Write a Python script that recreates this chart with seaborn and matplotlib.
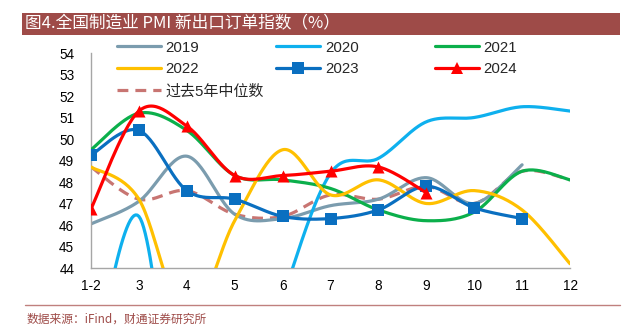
import numpy as np
import pandas as pd
import matplotlib
matplotlib.use("Agg")
import matplotlib.pyplot as plt
import seaborn as sns
from matplotlib.lines import Line2D

months = ["1-2", "3", "4", "5", "6", "7", "8", "9", "10", "11", "12"]
y2019 = [46.05, 47.1, 49.2, 46.5, 46.3, 46.9, 47.2, 48.2, 47.0, 48.8]
y2020 = [38.7, 46.4, 33.5, 35.3, 42.6, 48.4, 49.1, 50.8, 51.0, 51.5, 51.3]
y2021 = [49.5, 51.2, 50.4, 48.3, 48.1, 47.7, 46.7, 46.2, 46.6, 48.5, 48.1]
y2022 = [48.7, 47.2, 41.6, 46.2, 49.5, 47.4, 48.1, 47.0, 47.6, 46.7, 44.2]
y2023 = [49.25, 50.4, 47.6, 47.2, 46.4, 46.3, 46.7, 47.8, 46.8, 46.3]
y2024 = [46.75, 51.3, 50.6, 48.3, 48.3, 48.5, 48.7, 47.5]
median5 = [48.7, 47.2, 47.6, 46.5, 46.4, 47.4, 47.2, 47.8, 47.0, 48.5, 48.1]

yticks = list(range(44, 55))

title = "图4.全国制造业 PMI 新出口订单指数（%）"
source = "数据来源：iFind，财通证券研究所"

sns.set_theme(style="white")
plt.rcParams["font.family"] = ["Liberation Sans", "Noto Sans CJK SC", "DejaVu Sans"]

W, H = 627, 330
fig = plt.figure(figsize=(W / 100, H / 100), dpi=100)
ax = fig.add_axes([91 / W, 1 - 268 / H, (570 - 91) / W, (268 - 53) / H])


def smooth(vals, n=30):
    """Excel-like Catmull-Rom Bezier smoothing in (index, value) space."""
    P = np.column_stack([np.arange(len(vals), dtype=float), np.asarray(vals, float)])
    m = len(P)
    xs, ys = [], []
    for i in range(m - 1):
        p0 = P[i - 1] if i > 0 else P[i]
        p1 = P[i]
        p2 = P[i + 1]
        p3 = P[i + 2] if i + 2 < m else P[i + 1]
        b1 = p1 + (p2 - p0) / 6.0
        b2 = p2 - (p3 - p1) / 6.0
        t = np.linspace(0, 1, n, endpoint=(i == m - 2))[:, None]
        c = ((1 - t) ** 3) * p1 + 3 * ((1 - t) ** 2) * t * b1 + 3 * (1 - t) * t ** 2 * b2 + t ** 3 * p2
        xs.append(c[:, 0])
        ys.append(c[:, 1])
    return np.concatenate(xs), np.concatenate(ys)


series = [
    ("过去5年中位数", median5, "#C87572", None, (0, (3.4, 2.2)), 1),
    ("2019", y2019, "#7B9CAE", None, "-", 2),
    ("2020", y2020, "#0EB0EE", None, "-", 3),
    ("2021", y2021, "#0BAF4B", None, "-", 4),
    ("2022", y2022, "#FFC000", None, "-", 5),
    ("2023", y2023, "#0A6FC0", "s", "-", 6),
    ("2024", y2024, "#FF0000", "^", "-", 7),
]

handles = {}
for name, vals, color, marker, ls, z in series:
    sx, sy = smooth(vals)
    df = pd.DataFrame({"x": sx, "y": sy})
    sns.lineplot(data=df, x="x", y="y", ax=ax, color=color, linewidth=2.3,
                 linestyle=ls, sort=False, estimator=None, zorder=z)
    if marker:
        dm = pd.DataFrame({"x": np.arange(len(vals)), "y": vals})
        sns.scatterplot(data=dm, x="x", y="y", ax=ax, color=color, marker=marker,
                        s=75, linewidth=0, zorder=z + 0.5)
    handles[name] = Line2D([], [], color=color, linewidth=2.3, linestyle=ls,
                           marker=marker, markersize=8.5, markeredgewidth=0)

ax.set_xlim(0, len(months) - 1)
ax.set_ylim(44, 54)
ax.set_xticks(range(len(months)))
ax.set_xticklabels(months)
ax.set_yticks(yticks)
ax.set_xlabel("")
ax.set_ylabel("")
for s in ["top", "right"]:
    ax.spines[s].set_visible(False)
for s in ["left", "bottom"]:
    ax.spines[s].set_color("#A6A6A6")
    ax.spines[s].set_linewidth(1.0)
ax.tick_params(axis="both", which="both", labelsize=9.8, colors="#000000")
ax.tick_params(axis="x", direction="out", length=5, width=1, color="#A6A6A6", pad=3)
ax.tick_params(axis="y", direction="out", length=4, width=1, color="#A6A6A6", pad=8)
ax.grid(False)

# legends in three equal-width columns
cols = [
    (["2019", "2022", "过去5年中位数"], 117),
    (["2020", "2023"], 276),
    (["2021", "2024"], 435),
]
for names, x0 in cols:
    leg = fig.legend([handles[n] for n in names], names, loc="upper left",
                     bbox_to_anchor=(x0 / W, 1 - 40.5 / H), frameon=False,
                     handlelength=2.9, handletextpad=0.35,
                     labelspacing=0.52, borderaxespad=0, borderpad=0,
                     prop={"family": ["Liberation Sans", "Noto Sans CJK SC"], "size": 10.8})

# title bar
fig.patches.append(plt.Rectangle((22 / W, 1 - 35 / H), (620 - 22) / W, 22 / H,
                                 transform=fig.transFigure, facecolor="#9E4B48",
                                 edgecolor="none", zorder=0))
fig.text(25 / W, 1 - 24 / H, title, color="white", fontsize=12, va="center", ha="left",
         family=["Noto Sans CJK SC", "DejaVu Sans"])

# footer
fig.add_artist(Line2D([25 / W, 620 / W], [1 - 304.5 / H, 1 - 304.5 / H],
                      transform=fig.transFigure, color="#C0807E", linewidth=1))
fig.text(27 / W, 1 - 319 / H, source, color="#9E4B48", fontsize=8.5, va="center", ha="left",
         family=["Noto Sans CJK SC", "DejaVu Sans"])

fig.savefig("out.png", dpi=100)
